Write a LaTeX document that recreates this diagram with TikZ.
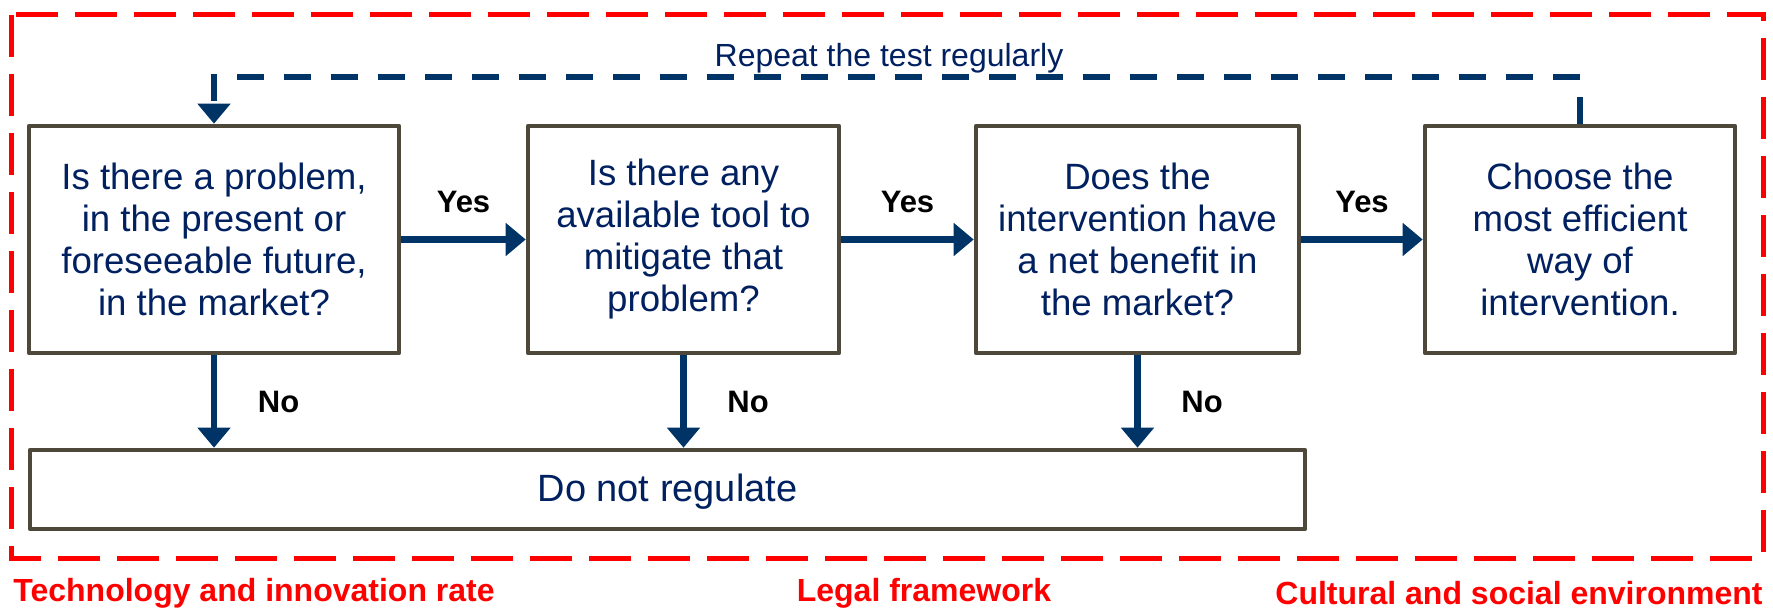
\documentclass[tikz,border=0pt]{standalone}
\usepackage{fontspec}
\setmainfont{Liberation Sans}
\usetikzlibrary{arrows.meta}
\definecolor{navy}{RGB}{0,32,96}
\definecolor{arrowblue}{RGB}{0,51,102}
\definecolor{boxgray}{RGB}{77,72,58}

\begin{document}
\begin{tikzpicture}[x=.5pt, y=-.5pt,
  box/.style={draw=boxgray, line width=2.3pt, line join=round, fill=white, inner sep=0pt,
    align=center, text=navy, font=\fontsize{18.3}{21}\selectfont, minimum height=113.5pt},
  arr/.style={arrowblue, line width=3.2pt, -{Triangle[length=10pt,width=16pt]}},
  answer/.style={text=black, font=\fontsize{15.5}{18}\selectfont\bfseries},
  frame/.style={red, line width=2.5pt, dash pattern=on 21pt off 8.5pt},
  factor/.style={red, font=\fontsize{16}{19}\selectfont\bfseries, inner sep=0pt}]
  \useasboundingbox (0,0) rectangle (1773,609);
  \draw [frame] (11,15) rectangle (1763,558);

  \node [box, minimum width=185pt] (b1) at (214,239.5)
    {Is there a problem,\\in the present or\\foreseeable future,\\in the market?};
  \node [box, minimum width=155.5pt] (b2) at (683.5,239.5)
    {Is there any\\available tool to\\mitigate that\\problem?};
  \node [box, minimum width=161.5pt] (b3) at (1137.5,239.5)
    {Does the\\intervention have\\a net benefit in\\the market?};
  \node [box, minimum width=155pt] (b4) at (1580,239.5)
    {Choose the\\most efficient\\way of\\intervention.};
  \node [box, minimum width=637.5pt, minimum height=39.5pt, font=\fontsize{19}{22}\selectfont,
    text depth=2pt] (nr) at (667.5,489.5) {Do not regulate};

  \foreach \a/\b in {b1/b2,b2/b3,b3/b4}
    \draw [arr] (\a.east) -- node [answer, midway, yshift=19pt] {Yes} (\b.west);
  \foreach \b in {b1,b2,b3}
    \draw [arr] (\b.south) -- node [answer, midway, right=17pt] {No} (\b.south |- nr.north);

  \coordinate (turn) at (889,77);
  \draw [arr, dash pattern=on 13.5pt off 10pt] (b4.north) |- (turn) -| (b1.north);
  \node [text=navy, font=\fontsize{16}{19}\selectfont, anchor=base] (repeat) at (889,66.5)
    {Repeat the test regularly};

  \node [factor, anchor=west] (tech) at (13,593) {Technology and innovation rate};
  \node [factor] (legal) at (924,593) {Legal framework};
  \node [factor, anchor=east] (culture) at (1763,593) {Cultural and social environment};
\end{tikzpicture}
\end{document}
